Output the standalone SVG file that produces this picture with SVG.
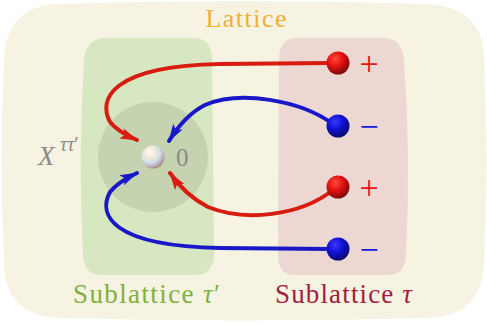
<svg xmlns="http://www.w3.org/2000/svg" width="487" height="324" viewBox="0 0 487 324">
<defs>
<radialGradient id="gr" cx="0.38" cy="0.32" r="0.7"><stop offset="0" stop-color="#ff4a3a"/><stop offset="0.5" stop-color="#e01010"/><stop offset="1" stop-color="#7a0808"/></radialGradient>
<radialGradient id="gb" cx="0.38" cy="0.32" r="0.7"><stop offset="0" stop-color="#3a3aff"/><stop offset="0.5" stop-color="#1010d0"/><stop offset="1" stop-color="#0a0a6a"/></radialGradient>
<radialGradient id="gw" cx="0.35" cy="0.3" r="0.75"><stop offset="0" stop-color="#ffffff"/><stop offset="0.3" stop-color="#f4ead8"/><stop offset="0.6" stop-color="#cfe0e8"/><stop offset="0.85" stop-color="#b8a8b8"/><stop offset="1" stop-color="#a08868"/></radialGradient>
<marker id="ar" viewBox="0 0 18 11" refX="17" refY="5.5" markerWidth="18" markerHeight="11" orient="auto" markerUnits="userSpaceOnUse"><path d="M0,0 L18,5.5 L0,11 L4,5.5 Z" fill="#d81c10"/></marker>
<marker id="ab" viewBox="0 0 18 11" refX="17" refY="5.5" markerWidth="18" markerHeight="11" orient="auto" markerUnits="userSpaceOnUse"><path d="M0,0 L18,5.5 L0,11 L4,5.5 Z" fill="#1818c8"/></marker>
</defs>
<style>
.lab{font-family:"Liberation Serif","DejaVu Serif",serif}
.r{fill:none;stroke:#d81c10;stroke-width:4;stroke-linecap:round}
.b{fill:none;stroke:#1818c8;stroke-width:4;stroke-linecap:round}
.pm{font-family:"Liberation Serif","DejaVu Serif",serif;font-size:34px;text-anchor:middle}
</style>
<g id="lattice">
<path d="M60,4 Q243,-2 425,4 Q484,6 484,60 Q489,160 484,262 Q482,318 425,318 Q243,323 60,318 Q4,316 4,262 Q-1,160 4,60 Q6,5 60,4 Z" fill="#f6f3e2"/>
<text class="lab" x="246" y="27" font-size="26" fill="#f0b030" text-anchor="middle" textLength="81">Lattice</text>
</g>
<g id="sublattice-tau-prime">
<path d="M105,38 L195,38 Q212,39 212,60 L214,255 Q213,275 195,275 L100,275 Q84,274 83,255 Q78,157 84,60 Q86,39 105,38 Z" fill="#d7e7c1"/>
<text class="lab" x="73" y="303" font-size="27" fill="#80b040" textLength="147">Sublattice <tspan font-style="italic">τ</tspan>′</text>
</g>
<g id="sublattice-tau">
<path d="M295,38 L385,38 Q402,39 404,60 Q411,157 406,255 Q405,274 389,275 L295,275 Q278,275 278,255 L279,60 Q279,39 295,38 Z" fill="#ecd7d3"/>
<text class="lab" x="275" y="303" font-size="27" fill="#a02040" textLength="137">Sublattice <tspan font-style="italic">τ</tspan></text>
</g>
<g id="x-region">
<circle cx="153" cy="157" r="55" fill="#c6d3b0"/>
<text class="lab" x="38" y="165" font-size="27" fill="#8a8a86" font-style="italic">X</text>
<text class="lab" x="60" y="151" font-size="20" fill="#8a8a86" font-style="italic">ττ<tspan font-style="normal">′</tspan></text>
</g>
<g id="center">
<circle cx="153" cy="157" r="11.5" fill="url(#gw)"/>
<text class="lab" x="176" y="166" font-size="25" fill="#8a8a86">0</text>
</g>
<g id="connectors">
<path class="r" d="M330,63 L220,64 C110,66 98,100 110,122 Q118,132 137,140" marker-end="url(#ar)"/>
<path class="b" d="M333,124 C300,100 240,90 205,105 Q185,115 169,141" marker-end="url(#ab)"/>
<path class="r" d="M333,190 C300,216 245,222 208,207 Q185,195 170,173" marker-end="url(#ar)"/>
<path class="b" d="M330,249 L220,248 C110,246 98,214 110,192 Q118,182 137,173" marker-end="url(#ab)"/>
</g>
<g id="charge-plus-1"><circle cx="338" cy="63" r="11.5" fill="url(#gr)"/><text class="pm" x="369" y="75" fill="#e81010">+</text></g>
<g id="charge-minus-1"><circle cx="338" cy="126" r="11.5" fill="url(#gb)"/><text class="pm" x="369" y="138" fill="#1818e0">−</text></g>
<g id="charge-plus-2"><circle cx="338" cy="187" r="11.5" fill="url(#gr)"/><text class="pm" x="369" y="199" fill="#e81010">+</text></g>
<g id="charge-minus-2"><circle cx="338" cy="249" r="11.5" fill="url(#gb)"/><text class="pm" x="369" y="261" fill="#1818e0">−</text></g>
</svg>
